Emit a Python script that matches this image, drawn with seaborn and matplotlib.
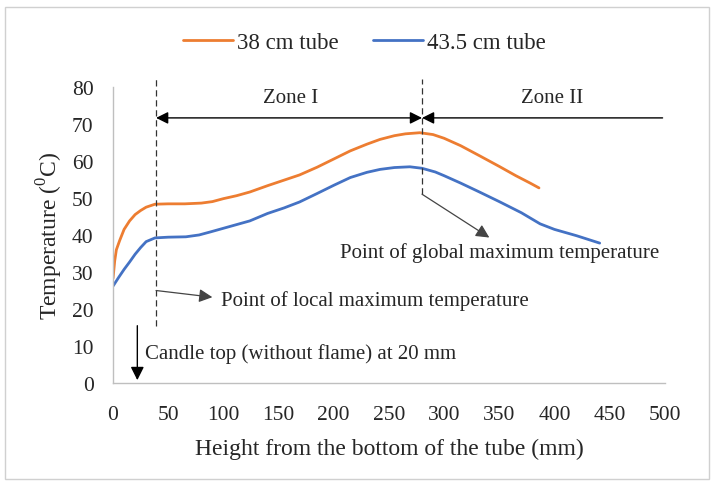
import numpy as np
import pandas as pd
import matplotlib
matplotlib.use("Agg")
import matplotlib.pyplot as plt
from matplotlib.patches import Rectangle
import seaborn as sns

# Values
height_38 = [0, 1.5, 3, 6, 10, 15, 20, 25, 30, 38, 50, 65, 80, 90, 100, 112,
             124, 140, 155, 169, 185, 200, 215, 230, 242, 255, 265, 278, 290,
             300, 315, 332, 350, 365, 378, 386]
temp_38 = [28.3, 33, 36, 38.5, 41.5, 43.8, 45.5, 46.6, 47.5, 48.3, 48.4, 48.4,
           48.6, 49, 49.8, 50.6, 51.6, 53.3, 54.8, 56.2, 58.3, 60.5, 62.7,
           64.5, 65.8, 66.8, 67.3, 67.6, 67.1, 66.1, 64.1, 61.4, 58.5, 56,
           54, 52.7]

height_435 = [0, 5, 10, 15, 20, 25, 30, 38, 50, 66, 78, 88, 100, 112, 124,
              140, 155, 169, 185, 200, 215, 230, 242, 255, 269, 280, 292, 300,
              315, 332, 350, 370, 387, 400, 420, 441]
temp_435 = [26.2, 28.5, 30.7, 32.7, 34.8, 36.6, 38.2, 39.2, 39.4, 39.5, 40,
            40.8, 41.8, 42.8, 43.8, 45.8, 47.3, 48.9, 51.2, 53.4, 55.5, 56.9,
            57.7, 58.2, 58.4, 58, 57, 56, 54, 51.6, 49, 46, 43, 41.5, 39.8,
            37.8]

series_names = ["38 cm tube", "43.5 cm tube"]
series_colors = ["#ED7D31", "#4472C4"]

df = pd.concat([
    pd.DataFrame({"Height": height_38, "Temp": temp_38, "Tube": series_names[0]}),
    pd.DataFrame({"Height": height_435, "Temp": temp_435, "Tube": series_names[1]}),
])

sns.set_style("white")
plt.rcParams["font.family"] = ["Liberation Serif", "DejaVu Serif"]
plt.rcParams["mathtext.fontset"] = "custom"
plt.rcParams["mathtext.rm"] = "Liberation Serif"

fig = plt.figure(figsize=(7.11, 4.85), dpi=100)
ax = fig.add_axes([0.159, 0.208, 0.776, 0.611])

sns.lineplot(data=df, x="Height", y="Temp", hue="Tube", palette=series_colors,
             sort=False, linewidth=2.0, ax=ax, legend=False)
for line in ax.get_lines():
    line.set_solid_joinstyle("round")
    line.set_solid_capstyle("round")

ax.set_xlim(0, 500)
ax.set_ylim(0, 80)
ax.set_xticks(np.arange(0, 501, 50))
ax.set_yticks(np.arange(0, 81, 10))
ax.tick_params(axis="x", direction="out", length=5, color="#BFBFBF",
               labelsize=15.5, pad=11)
ax.tick_params(axis="y", length=0, labelsize=15.5, pad=14)
for side in ["top", "right"]:
    ax.spines[side].set_visible(False)
for side in ["left", "bottom"]:
    ax.spines[side].set_color("#BFBFBF")
    ax.spines[side].set_linewidth(1.0)

ax.set_xlabel("Height from the bottom of the tube (mm)", fontsize=17, labelpad=10)
ax.set_ylabel("Temperature ($^{0}$C)", fontsize=17, labelpad=5)

# zone markers
ax.plot([39, 39], [15.5, 82], ls=(0, (5, 3)), color="#333333", lw=0.9,
        clip_on=False)
ax.plot([280, 280], [51, 82], ls=(0, (5, 3)), color="#333333", lw=0.9,
        clip_on=False)
ax.annotate("", xy=(39, 71.6), xytext=(280, 71.6),
            arrowprops=dict(arrowstyle="<|-|>", color="black", lw=1.0,
                            mutation_scale=18, shrinkA=0, shrinkB=0))
ax.annotate("", xy=(280, 71.6), xytext=(498, 71.6),
            arrowprops=dict(arrowstyle="-|>", color="black", lw=1.0,
                            mutation_scale=18, shrinkA=0, shrinkB=0))
ax.text(161, 77, "Zone I", ha="center", va="center", fontsize=15)
ax.text(398, 77, "Zone II", ha="center", va="center", fontsize=15)

# point annotations
ax.annotate("", xy=(90, 23.2), xytext=(39, 25),
            arrowprops=dict(arrowstyle="-|>", color="#444444", lw=0.9,
                            mutation_scale=20, shrinkA=0, shrinkB=0))
ax.text(98, 22.4, "Point of local maximum temperature", ha="left",
        va="center", fontsize=15)
ax.annotate("", xy=(341, 39.3), xytext=(280, 51),
            arrowprops=dict(arrowstyle="-|>", color="#444444", lw=0.9,
                            mutation_scale=20, shrinkA=0, shrinkB=0))
ax.text(206, 35.4, "Point of global maximum temperature", ha="left",
        va="center", fontsize=15)
ax.annotate("", xy=(22, 0.8), xytext=(22, 15.5),
            arrowprops=dict(arrowstyle="-|>", color="black", lw=1.0,
                            mutation_scale=20, shrinkA=0, shrinkB=0))
ax.text(29, 8.1, "Candle top (without flame) at 20 mm", ha="left",
        va="center", fontsize=15)

# legend
handles = [plt.Line2D([], [], color=c, lw=2.0) for c in series_colors]
fig.legend(handles, series_names, loc="center", bbox_to_anchor=(0.512, 0.911),
           ncol=2, frameon=False, fontsize=16.5, handlelength=2.2,
           handletextpad=0.15, columnspacing=1.5)

# outer chart border
fig.patches.append(Rectangle((5 / 711, 0.01), 0.99, 1 - 8 / 485 - 0.01,
                             transform=fig.transFigure, fill=False,
                             edgecolor="#D0D0D0", lw=1.0))

fig.savefig("out.png", dpi=100)
